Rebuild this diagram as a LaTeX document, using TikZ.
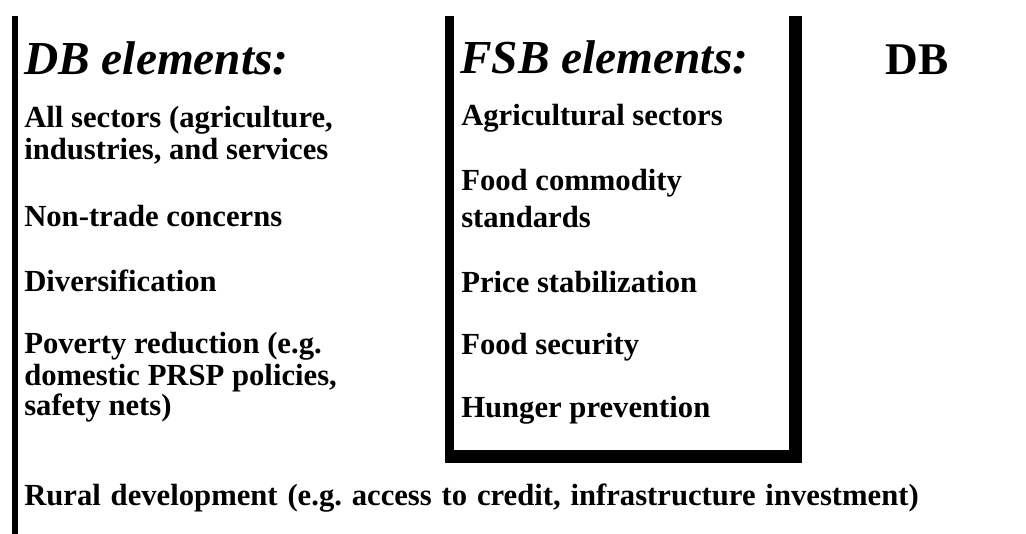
\documentclass[tikz,border=0pt]{standalone}
\usepackage{fontspec}
\setmainfont{Liberation Serif}
\begin{document}
\frenchspacing
\begin{tikzpicture}[x=0.75pt,y=-0.75pt,
  txt/.style={anchor=base west,inner sep=0pt,font=\fontsize{23pt}{27pt}\selectfont\bfseries},
  head/.style={anchor=base west,inner sep=0pt,font=\fontsize{35.5pt}{40pt}\selectfont\bfseries\itshape},
  big/.style={anchor=base west,inner sep=0pt,font=\fontsize{34pt}{40pt}\selectfont\bfseries},
  wall/.style={fill=black,draw=none}]
\useasboundingbox (0,0) rectangle (1026,534);
% DB region left wall
\fill[wall] (12,16) rectangle (18,534);
% FSB box walls (open at top)
\fill[wall] (445,16) rectangle (454,463);
\fill[wall] (789,16) rectangle (802,463);
\fill[wall] (445,450) rectangle (802,463);
% DB column
\node[head] (dbh) at (24,75) {DB elements:};
\node[txt] (db1a) at (24,128) {All sectors (agriculture,};
\node[txt] (db1b) at (24,160) {industries, and services};
\node[txt] (db2) at (24,227) {Non-trade concerns};
\node[txt] (db3) at (24,292) {Diversification};
\node[txt] (db4a) at (24,354) {Poverty reduction (e.g.};
\node[txt] (db4b) at (24,386) {domestic PRSP policies,};
\node[txt] (db4c) at (24,416) {safety nets)};
\node[txt] (db5) at (24,506) {\spaceskip=0.32em\relax Rural development (e.g. access to credit, infrastructure investment)};
% FSB column
\node[head] (fsbh) at (460,74) {FSB elements:};
\node[txt] (f1) at (461,126) {Agricultural sectors};
\node[txt] (f2a) at (461,191) {Food commodity};
\node[txt] (f2b) at (461,228) {standards};
\node[txt] (f3) at (461,293) {Price stabilization};
\node[txt] (f4) at (461,355) {Food security};
\node[txt] (f5) at (461,418) {Hunger prevention};
% right label
\node[big] (db) at (885,75) {DB};
\end{tikzpicture}
\end{document}
